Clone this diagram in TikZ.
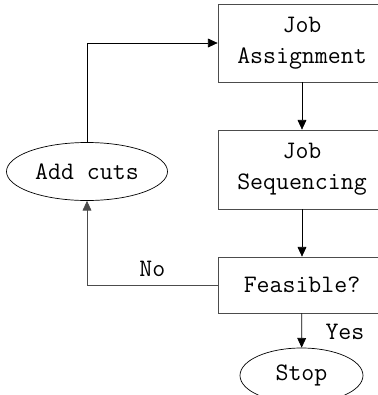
\documentclass[tikz,border=0pt]{standalone}
\usetikzlibrary{arrows.meta,shapes.geometric}
\begin{document}
\begin{tikzpicture}[
	font = \ttfamily\fontsize{14.3}{17.6}\selectfont,
	box/.style = {draw = black!70, align = center,
		minimum width = 3.36cm, inner sep = 0pt},
	oval/.style = {draw, ellipse, inner sep = 0pt},
	flow/.style = {-{Triangle[length=5.5pt, width=5pt]}}
	]
	
	\useasboundingbox (0,0) rectangle (7.56,-7.9);
	
	\node [box, minimum height = 1.56cm] (ja) at (6.04,-0.86){Job\\Assignment};
	\node [box, minimum height = 1.58cm] (js) at (6.04,-3.39){Job\\Sequencing};
	\node [box, minimum height = 1.12cm] (feas) at (6.04,-5.70){Feasible?};
	\node [oval, minimum width = 2.46cm, minimum height = 1.1cm] (stop) at (6.03,-7.51){Stop};
	\node [oval, minimum width = 3.22cm, minimum height = 1.16cm] (cuts) at (1.74,-3.43){Add cuts};
	
	\draw[flow] (ja) -- (js);
	\draw[flow] (js) -- (feas);
	\draw[flow] (feas) -- node[right = 10pt, pos = 0.55]{Yes} (stop);
	\draw[flow, black!70] (feas.west) -- node[above = 1pt, black]{No} (cuts |- feas.west) -- (cuts);
	\draw[flow] (cuts) -- (cuts |- ja.west) -- (ja);
	
\end{tikzpicture}
\end{document}
